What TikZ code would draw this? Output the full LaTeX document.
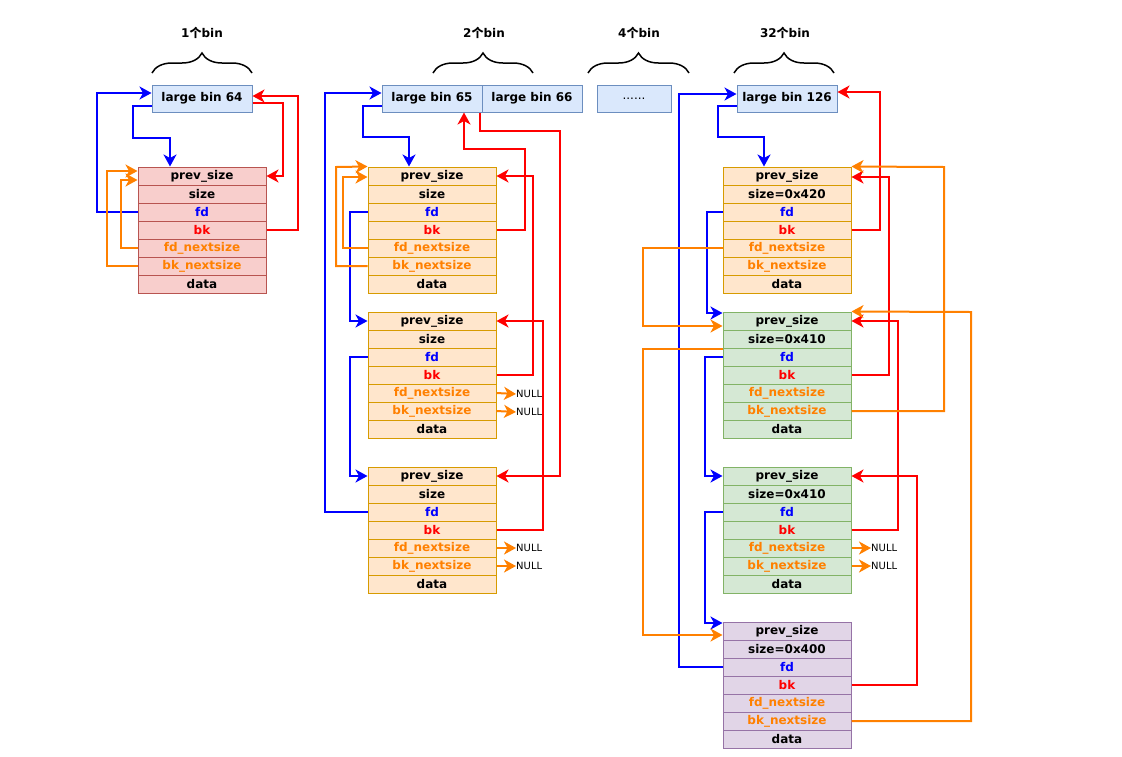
\documentclass[tikz,border=0pt]{standalone}
\usepackage{fontspec}
\setmainfont{DejaVu Sans}
\newfontfamily\cjk{Noto Sans CJK SC}
\usetikzlibrary{arrows.meta,decorations.pathreplacing}

\definecolor{binfill}{HTML}{DAE8FC}
\definecolor{bindraw}{HTML}{6C8EBF}
\definecolor{redfill}{HTML}{F8CECC}
\definecolor{reddraw}{HTML}{B85450}
\definecolor{orgfill}{HTML}{FFE6CC}
\definecolor{orgdraw}{HTML}{D79B00}
\definecolor{grnfill}{HTML}{D5E8D4}
\definecolor{grndraw}{HTML}{82B366}
\definecolor{purfill}{HTML}{E1D5E7}
\definecolor{purdraw}{HTML}{9673A6}
\definecolor{fdblue}{HTML}{0000FF}
\definecolor{bkred}{HTML}{FF0000}
\definecolor{nsorange}{HTML}{FF8000}

% one malloc chunk: name, x, top, fill, draw, size text
\newcommand{\memchunk}[6]{%
  \foreach \nm/\txt/\col [count=\i from 0] in {prev/prev\_size/black,size/#6/black,fd/fd/fdblue,bk/bk/bkred,fdn/fd\_nextsize/nsorange,bkn/bk\_nextsize/nsorange,data/data/black}
    \node[row,fill=#4,draw=#5] (#1-\nm) at (#2,{#3+9+18*\i}) {\textcolor{\col}{\txt}};
}

\begin{document}
\begin{tikzpicture}[x=1pt,y=-1pt,
  every node/.style={font=\fontsize{12}{14}\selectfont\bfseries},
  row/.style={rectangle,line width=1pt,minimum width=128pt,minimum height=18pt,inner sep=0pt},
  bin/.style={rectangle,fill=binfill,draw=bindraw,line width=1pt,minimum height=27pt,inner sep=0pt},
  nulltxt/.style={anchor=west,inner sep=0pt,font=\fontsize{10}{12}\selectfont},
  brc/.style={decorate,decoration={brace,amplitude=20pt},line width=1.5pt},
  tip/.style={-{Stealth[length=12pt,width=13pt,inset=3.5pt]}},
  fdline/.style={draw=fdblue,line width=2pt,tip},
  bkline/.style={draw=bkred,line width=2pt,tip},
  nsline/.style={draw=nsorange,line width=2pt,tip}]
\useasboundingbox (0,0) rectangle (1122,756);

% headers
\node (h1) at (202,33) {1{\cjk 个}bin};
\node (h2) at (484,33) {2{\cjk 个}bin};
\node (h4) at (639,33) {4{\cjk 个}bin};
\node (h32) at (785,33) {32{\cjk 个}bin};
\draw[brc] (152,73) -- (252,73);
\draw[brc] (433,73) -- (533,73);
\draw[brc] (588,73) -- (689,73);
\draw[brc] (734,73) -- (834,73);

% bins
\node[bin,minimum width=100pt] (bin64) at (202,98.5) {large bin 64};
\node[bin,minimum width=100pt] (bin65) at (432,98.5) {large bin 65};
\node[bin,minimum width=100pt] (bin66) at (532,98.5) {large bin 66};
\node[bin,minimum width=74pt,font=\fontsize{12}{14}\selectfont] (bindots) at (634,98.5) {......};
\node[bin,minimum width=100pt] (bin126) at (787,98.5) {large bin 126};

% chunks
\memchunk{c1}{202}{167}{redfill}{reddraw}{size}
\memchunk{c2a}{432}{167}{orgfill}{orgdraw}{size}
\memchunk{c2b}{432}{312}{orgfill}{orgdraw}{size}
\memchunk{c2c}{432}{467}{orgfill}{orgdraw}{size}
\memchunk{c3a}{787}{167}{orgfill}{orgdraw}{size=0x420}
\memchunk{c3b}{787}{312}{grnfill}{grndraw}{size=0x410}
\memchunk{c3c}{787}{467}{grnfill}{grndraw}{size=0x410}
\memchunk{c3d}{787}{622}{purfill}{purdraw}{size=0x400}

% NULL ends
\node[nulltxt] (n2b1) at (516,394) {NULL};
\node[nulltxt] (n2b2) at (516,412) {NULL};
\node[nulltxt] (n2c1) at (516,548) {NULL};
\node[nulltxt] (n2c2) at (516,566) {NULL};
\node[nulltxt] (n3c1) at (871,548) {NULL};
\node[nulltxt] (n3c2) at (871,566) {NULL};

% large bin 64
\draw[fdline] ([yshift=-7.5pt]bin64.west) -| (133,138) -| ([xshift=-32pt]c1-prev.north);
\draw[fdline] (c1-fd.west) -| (97,93) -- ([yshift=5.5pt]bin64.west);
\draw[bkline] (c1-bk.east) -| (298,96) -- ([yshift=2.5pt]bin64.east);
\draw[bkline] ([yshift=-4.5pt]bin64.east) -| (283,176) -- (c1-prev.east);
\draw[nsline] (c1-fdn.west) -| (121,180) -- ([yshift=-4pt]c1-prev.west);
\draw[nsline] (c1-bkn.west) -| (107,171) -- ([yshift=5pt]c1-prev.west);

% large bin 65
\draw[fdline] ([yshift=-7.5pt]bin65.west) -| (363,137) -| ([xshift=-23pt]c2a-prev.north);
\draw[fdline] (c2c-fd.west) -| (325,93) -- ([yshift=5.5pt]bin65.west);
\draw[fdline] (c2a-fd.west) -| (350,321) -- (c2b-prev.west);
\draw[fdline] (c2b-fd.west) -| (350,476) -- (c2c-prev.west);
\draw[bkline] (c2a-bk.east) -| (525,149) -| ([xshift=32pt]bin65.south);
\draw[bkline] ([xshift=48pt]bin65.south) |- (560,131) |- (c2c-prev.east);
\draw[bkline] (c2b-bk.east) -| (533,176) -- (c2a-prev.east);
\draw[bkline] (c2c-bk.east) -| (543,321) -- (c2b-prev.east);
\draw[nsline] (c2a-fdn.west) -| (343,177) -- ([yshift=-1pt]c2a-prev.west);
\draw[nsline] (c2a-bkn.west) -| (336,167) -- (c2a-prev.north west);
\draw[nsline] (c2b-fdn.east) -- (n2b1.west);
\draw[nsline] (c2b-bkn.east) -- (n2b2.west);
\draw[nsline] (c2c-fdn.east) -- (n2c1.west);
\draw[nsline] (c2c-bkn.east) -- (n2c2.west);

% large bin 126
\draw[fdline] ([yshift=-7.5pt]bin126.west) -| (718,137) -| ([xshift=-23pt]c3a-prev.north);
\draw[fdline] (c3d-fd.west) -| (679,94) -- ([yshift=4.5pt]bin126.west);
\draw[fdline] (c3a-fd.west) -| (707,313) -- ([yshift=8pt]c3b-prev.west);
\draw[fdline] (c3b-fd.west) -| (705,476) -- (c3c-prev.west);
\draw[fdline] (c3c-fd.west) -| (705,623) -- ([yshift=8pt]c3d-prev.west);
\draw[bkline] (c3a-bk.east) -| (880,92) -- ([yshift=6.5pt]bin126.east);
\draw[bkline] (c3b-bk.east) -| (889,177) -- ([yshift=-1pt]c3a-prev.east);
\draw[bkline] (c3c-bk.east) -| (898,321) -- (c3b-prev.east);
\draw[bkline] (c3d-bk.east) -| (917,476) -- (c3c-prev.east);
\draw[nsline] (c3b-bkn.east) -| (944,167) -- (c3a-prev.north east);
\draw[nsline] (c3d-bkn.east) -| (971,312) -- (c3b-prev.north east);
\draw[nsline] (c3a-fdn.west) -| (643,326) -- ([yshift=-5pt]c3b-prev.west);
\draw[nsline] (c3b-size.south west) -| (643,635) -- ([yshift=-4pt]c3d-prev.west);
\draw[nsline] (c3c-fdn.east) -- (n3c1.west);
\draw[nsline] (c3c-bkn.east) -- (n3c2.west);
\end{tikzpicture}
\end{document}
